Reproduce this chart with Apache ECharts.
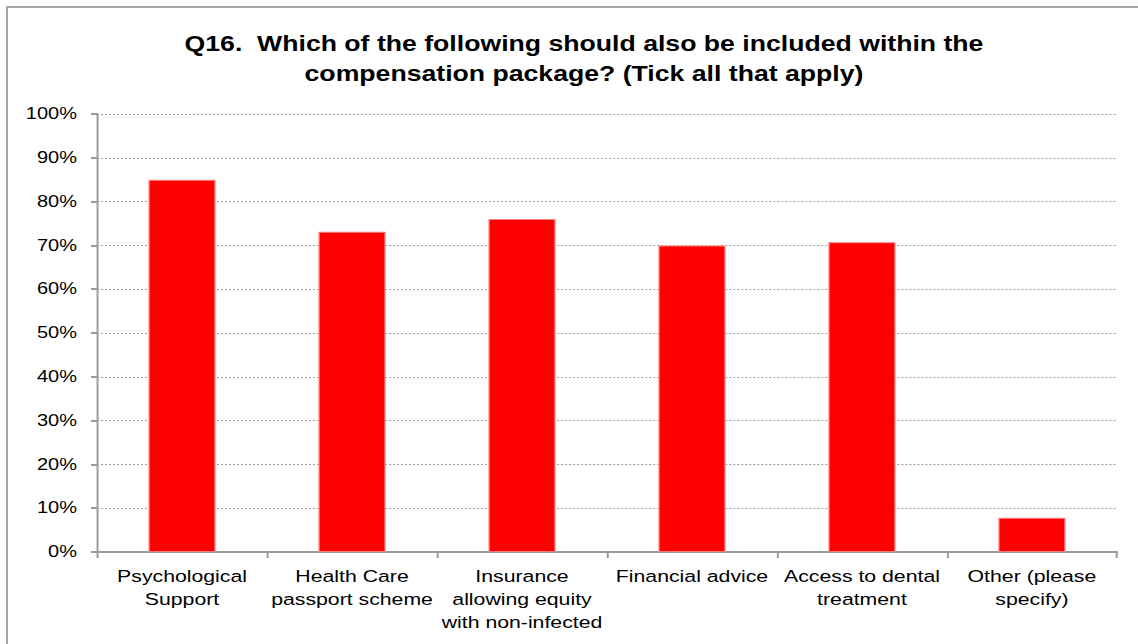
<!DOCTYPE html>
<html>
<head>
<meta charset="utf-8">
<style>
  html, body { margin: 0; padding: 0; background: #ffffff; overflow: hidden; width: 1138px; height: 644px; }
  #frame { width: 1138px; height: 644px; overflow: hidden; position: relative; background: #ffffff; }
  /* chart area outline; only its top and left edges fall on the page */
  #outline { position: absolute; left: 6px; top: 6px; right: 0; bottom: 0;
             border-left: 2px solid #a6a6a6; border-top: 2px solid #a6a6a6; pointer-events: none; }
  /* blank margin to the right of the plot */
  #margin { position: absolute; left: 1120px; top: 8px; width: 18px; height: 636px; background: #ffffff; }
  /* the chart is laid out narrow and widened, giving the broad lettering of the original export */
  #chart { position: absolute; left: 0; top: 0; width: 910px; height: 644px;
           transform: scaleX(1.2505); transform-origin: 0 0; }
</style>
<script src="https://cdn.jsdelivr.net/npm/echarts@6/dist/echarts.min.js"></script>
</head>
<body>
<div id="frame"><div id="chart"></div><div id="margin"></div><div id="outline"></div></div>
<script>
// Survey answers, share of respondents (%)
const categories = [
  'Psychological\nSupport',
  'Health Care\npassport scheme',
  'Insurance\nallowing equity\nwith non-infected',
  'Financial advice',
  'Access to dental\ntreatment',
  'Other (please\nspecify)'
];
const shares = [85, 73.1, 76, 70, 70.7, 7.8];
const yTicks = [0, 10, 20, 30, 40, 50, 60, 70, 80, 90, 100];
const titleLines = [
  'Q16.  Which of the following should also be included within the',
  'compensation package? (Tick all that apply)'
];

const chart = echarts.init(document.getElementById('chart'), null, { renderer: 'svg' });
const axisGrey = '#9a9a9a';
const font = 'Liberation Sans, Arial, sans-serif';

chart.setOption({
  animation: false,
  title: {
    text: titleLines.join('\n'),
    left: 462,
    top: 24,
    textAlign: 'center',
    textStyle: {
      fontFamily: font,
      fontWeight: 'bold',
      fontSize: 21.3,
      lineHeight: 30,
      color: '#000000'
    }
  },
  grid: { left: 77.6, right: 16.8, top: 114, bottom: 92, containLabel: false },
  xAxis: {
    type: 'category',
    data: categories,
    axisLine: { lineStyle: { color: axisGrey, width: 2 } },
    axisTick: { show: true, alignWithLabel: false, length: 6, lineStyle: { color: axisGrey, width: 1.6 } },
    axisLabel: {
      interval: 0,
      margin: 13,
      fontFamily: font,
      fontSize: 17,
      lineHeight: 23,
      color: '#000000'
    }
  },
  yAxis: {
    type: 'value',
    min: yTicks[0],
    max: yTicks[yTicks.length - 1],
    interval: yTicks[1] - yTicks[0],
    axisLine: { show: true, lineStyle: { color: axisGrey, width: 1.6 } },
    axisTick: { show: true, length: 4.8, lineStyle: { color: axisGrey, width: 2 } },
    splitLine: { show: true, lineStyle: { color: '#9a9a9a', type: [1.6, 1.6], width: 1 } },
    axisLabel: {
      formatter: '{value}%',
      margin: 16,
      fontFamily: font,
      fontSize: 16,
      color: '#000000'
    }
  },
  series: [{
    type: 'bar',
    data: shares,
    barWidth: '39.5%',
    itemStyle: { color: '#ff0000', borderColor: '#ff8080', borderWidth: 1 }
  }]
});
</script>
</body>
</html>
